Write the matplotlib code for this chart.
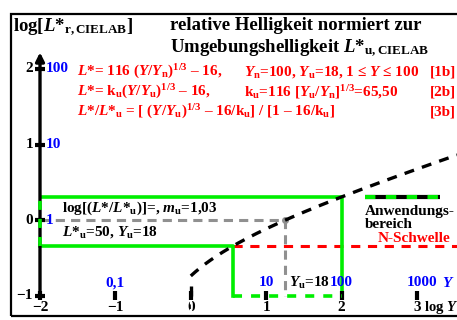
import numpy as np
import matplotlib
matplotlib.use("Agg")
import matplotlib.pyplot as plt
from matplotlib.patches import Rectangle

plt.rcParams['font.family'] = ['Liberation Serif', 'DejaVu Serif']
plt.rcParams['font.weight'] = 'bold'
plt.rcParams['mathtext.fontset'] = 'custom'
plt.rcParams['mathtext.rm'] = 'Liberation Serif:bold'
plt.rcParams['mathtext.it'] = 'Liberation Serif:italic:bold'
plt.rcParams['mathtext.bf'] = 'Liberation Serif:bold'

# ---- data ----
Yn = 100.0
Yu = 18.0
ku = 65.50
Lu = 50.0
Y_min, Y_max = 1.0, 100.0
n_threshold_log = -0.345          # N-Schwelle, log(L*/L*u)
x_ticks = [-2, -1, 0, 1, 2, 3]
x_tick_labels = ['\u22122', '\u22121', '0', '1', '2', '3']
x_axis_name = 'log $Y$'
y_ticks = [-1, 0, 1, 2]
y_tick_labels = ['\u22121', '0', '1', '2']
y_blue_labels = {2: '100', 1: '10', 0: '1'}
x_blue_labels = {-1: '0,1', 1: '10', 2: '100', 3: '1000'}

def lrel(Y):
    return np.log10(((Y / Yu) ** (1 / 3) - 16 / ku) / (1 - 16 / ku))

# ---- figure ----
W, H = 457, 320
fig = plt.figure(figsize=(W / 100, H / 100), dpi=100)
ax = fig.add_axes([0, 0, 1, 1])
sx, sy = 75.4, 75.5
x0px, y0px = 40, 220
ax.set_xlim(-2 - x0px / sx, -2 + (W - x0px) / sx)
ax.set_ylim(-(H - y0px) / sy, y0px / sy)
ax.axis('off')

def P(px, py):
    return (px - x0px) / sx - 2, (y0px - py) / sy

# frame
fig.patches.append(Rectangle((11 / W, 1 - 316 / H), (W + 5 - 11) / W, (316 - 14) / H,
                             transform=fig.transFigure, fill=False, lw=1.6,
                             ec='black', zorder=0))

# application range (green)
x_thr = 3 * np.log10(((10 ** n_threshold_log) * (1 - 16 / ku) + 16 / ku)) + np.log10(Yu)
top = lrel(Y_max)
xl, xr = np.log10(Y_min) - 2, np.log10(Y_max)
ax.plot([xl, xr, xr], [top, top, -1], color='#00ee00', lw=2.6, zorder=3, solid_capstyle='butt')
ax.plot([x_thr, x_thr, xl], [-1, n_threshold_log, n_threshold_log], color='#00ee00', lw=2.6,
        zorder=3)

# grey dashed to Yu
xu = np.log10(Yu)
ax.plot([-2, xu, xu], [0, 0, -1], color='#909090', lw=2.2, ls=(0, (3, 2)), zorder=2)
ax.plot([xu], [0], 'o', color='#909090', ms=4, zorder=4)

# N-Schwelle
ax.plot([x_thr, ax.get_xlim()[1]], [n_threshold_log, n_threshold_log], color='#ff0000',
        lw=2.2, ls=(0, (3, 2.5)), zorder=2)

# axes
ax.annotate('', xy=(ax.get_xlim()[1] + 0.02, -1), xytext=(-2, -1),
            arrowprops=dict(arrowstyle='-|>,head_length=0.5,head_width=0.25', lw=2.4,
                            color='black', shrinkA=0, shrinkB=0), zorder=5)
ax.annotate('', xy=(-2, 2.22), xytext=(-2, -1),
            arrowprops=dict(arrowstyle='-|>,head_length=0.5,head_width=0.25', lw=2.4,
                            color='black', shrinkA=0, shrinkB=0), zorder=5)
for t in x_ticks:
    ax.plot([t, t], [-1.055, -0.945], color='black', lw=3, zorder=6, solid_capstyle='butt')
for t in y_ticks:
    ax.plot([-2.07, -1.93], [t, t], color='black', lw=3, zorder=6, solid_capstyle='butt')

# green dashed on axes
ax.plot([xl, xl], [n_threshold_log, top], color='#00ee00', lw=2.6, ls=(0, (2.5, 2.5)), zorder=7)
ax.plot([x_thr, xr], [-1, -1], color='#00ee00', lw=2.6, ls=(0, (2.5, 2.5)), zorder=7)

# curve
xs = np.linspace(0, ax.get_xlim()[1], 300)
ax.plot(xs, lrel(10 ** xs), color='black', lw=2.4, ls=(0, (3, 2.5)), zorder=8)
ax.plot([0, 0], [lrel(1.0) - 0.14, -1.0], color='black', lw=2.4, zorder=8, solid_capstyle='butt')

# tick labels
fs = 11
ybase = P(0, 311)[1]
for t, lab in zip(x_ticks, x_tick_labels):
    ax.text(t, ybase, lab, ha='center', va='baseline', fontsize=fs, zorder=9)
ax.plot([0, 0], [-1.06, -1.3], color='white', lw=1.6, ls=(0, (2, 2)), zorder=10)
ax.text(*P(424, 311), x_axis_name, ha='left', va='baseline', fontsize=10.5)
for t, lab in zip(y_ticks, y_tick_labels):
    ax.text(-2.09, t, lab, ha='right', va='center', fontsize=fs)
for t, lab in y_blue_labels.items():
    ax.text(-1.92, t, lab, ha='left', va='center', fontsize=fs, color='#0000ff', zorder=9)
for t, lab in x_blue_labels.items():
    xx = t if t < 3 else P(422, 0)[0]
    ax.text(xx, -0.83, lab, ha='center', va='center', fontsize=fs, color='#0000ff', zorder=9)
ax.text(*P(442, 283), '$Y$', ha='left', va='center', fontsize=fs, color='#0000ff')
ax.text(*P(289, 283), '$Y_{\\rm u}$=18', ha='left', va='center', fontsize=fs, zorder=9)

# titles
tfs = 13.5
ax.text(*P(13, 27), 'log[$L$*$_{\\rm r,CIELAB}$]', ha='left', va='center', fontsize=tfs)
ax.text(*P(170, 26), 'relative Helligkeit normiert zur', ha='left', va='center', fontsize=tfs)
ax.text(*P(170, 48), 'Umgebungshelligkeit $L$*$_{\\rm u,CIELAB}$', ha='left', va='center',
        fontsize=tfs)

red = '#ff0000'
ax.text(*P(77, 72), '$L$*= 116 $(Y/Y_{\\rm n})^{1/3}$ \u2013 16,', color=red, fontsize=fs,
        ha='left', va='center')
ax.text(*P(244, 72), '$Y_{\\rm n}$=100, $Y_{\\rm u}$=18, 1 \u2264 $Y$ \u2264 100', color=red,
        fontsize=fs, ha='left', va='center')
ax.text(*P(430, 72), '[1b]', color=red, fontsize=fs, ha='left', va='center')
ax.text(*P(77, 92), '$L$*= k$_{\\rm u}$$(Y/Y_{\\rm u})^{1/3}$ \u2013 16,', color=red, fontsize=fs,
        ha='left', va='center')
ax.text(*P(244, 92), 'k$_{\\rm u}$=116 $[Y_{\\rm u}/Y_{\\rm n}]^{1/3}$=65,50', color=red,
        fontsize=fs, ha='left', va='center')
ax.text(*P(430, 92), '[2b]', color=red, fontsize=fs, ha='left', va='center')
ax.text(*P(77, 112), '$L$*/$L$*$_{\\rm u}$ = [ $(Y/Y_{\\rm u})^{1/3}$ \u2013 16/k$_{\\rm u}$] / [1 \u2013 16/k$_{\\rm u}$]',
        color=red, fontsize=fs, ha='left', va='center')
ax.text(*P(430, 112), '[3b]', color=red, fontsize=fs, ha='left', va='center')

ax.text(*P(62, 208), 'log[($L$*/$L$*$_{\\rm u}$)]=, $m_{\\rm u}$=1,03', fontsize=fs,
        ha='left', va='center', zorder=9)
ax.text(*P(62, 232), '$L$*$_{\\rm u}$=50, $Y_{\\rm u}$=18', fontsize=fs, ha='left', va='center',
        zorder=9)

# legend
lx0, lx1 = P(365, 197)[0], P(440, 197)[0]
ly = P(365, 197)[1]
ax.plot([lx0, lx1], [ly, ly], color='black', lw=3, solid_capstyle='butt')
ax.plot([lx0, lx1], [ly, ly], color='#00ee00', lw=3, ls=(0, (2.5, 2.5)))
ax.text(*P(365, 211), 'Anwendungs-', fontsize=fs, ha='left', va='center')
ax.text(*P(365, 225), 'bereich', fontsize=fs, ha='left', va='center')
ax.text(*P(378, 239), 'N-Schwelle', fontsize=fs, ha='left', va='center', color=red)

fig.savefig('out.png', dpi=100)
